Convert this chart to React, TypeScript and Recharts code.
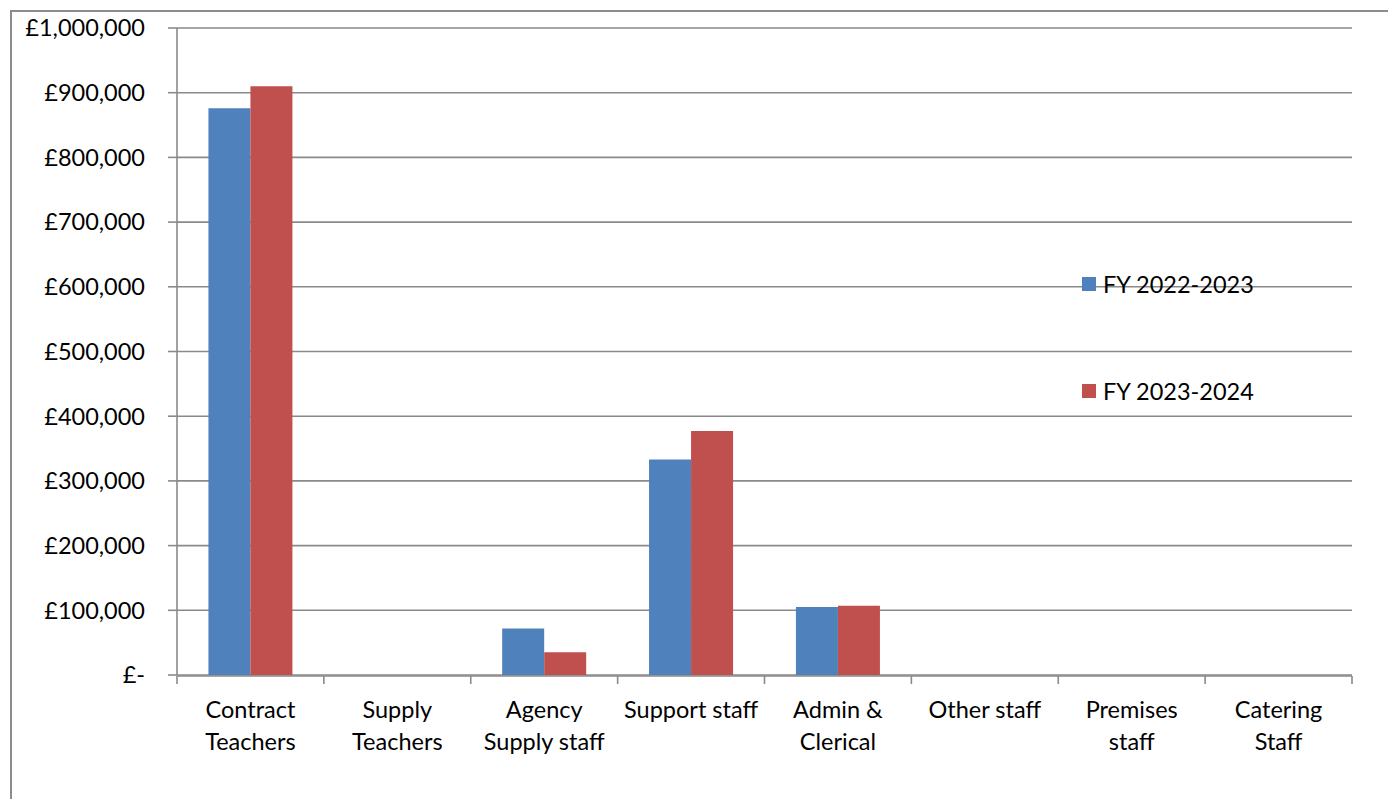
import React from 'react';
import { BarChart, Bar, XAxis, YAxis, CartesianGrid, Legend } from 'recharts';

// Staff cost categories (line breaks mark where labels wrap)
const categories = [
  'Contract\nTeachers',
  'Supply\nTeachers',
  'Agency\nSupply staff',
  'Support staff',
  'Admin &\nClerical',
  'Other staff',
  'Premises\nstaff',
  'Catering\nStaff',
];
const seriesNames = ['FY 2022-2023', 'FY 2023-2024'];
const fy2022_2023 = [876000, 0, 72000, 333000, 105000, 0, 0, 0];
const fy2023_2024 = [910000, 0, 35000, 377000, 107000, 0, 0, 0];
const yTicks = [0, 100000, 200000, 300000, 400000, 500000, 600000, 700000, 800000, 900000, 1000000];
const categoryEdges = [0, 1, 2, 3, 4, 5, 6, 7, 8];

const colors = ['#4F81BD', '#C0504D'];
const gridColor = '#8a8a8a';
const FONT = 'Lato, "Open Sans", sans-serif';
const FONT_SIZE = 23.5;

const data = categories.map((category, i) => ({
  category,
  edge: i,
  a: fy2022_2023[i],
  b: fy2023_2024[i],
}));

const formatPounds = (v: number) => (v === 0 ? '£-' : '£' + v.toLocaleString('en-GB'));

const CategoryTick = (props: any) => {
  const { x, y, payload } = props;
  const lines = String(payload.value).split('\n');
  return (
    <text x={x} y={y} textAnchor="middle" fill="#000" fontFamily={FONT} fontSize={FONT_SIZE}>
      {lines.map((line, i) => (
        <tspan key={i} x={x} y={y + 43 + i * 32}>
          {line}
        </tspan>
      ))}
    </text>
  );
};

// Tick marks only, no labels, between categories
const BlankTick = () => <g />;

const LegendList = (props: any) => {
  const { payload = [] } = props;
  return (
    <div style={{ fontFamily: FONT, fontSize: FONT_SIZE, color: '#000' }}>
      {payload.map((entry: any, i: number) => (
        <div
          key={i}
          style={{ display: 'flex', alignItems: 'center', height: 30, marginBottom: i === 0 ? 77 : 0, whiteSpace: 'nowrap' }}
        >
          <span style={{ display: 'inline-block', width: 14, height: 14, background: entry.color, marginRight: 7 }} />
          <span>{entry.value}</span>
        </div>
      ))}
    </div>
  );
};

export default function App() {
  return (
    <div style={{ position: 'absolute', left: 0, top: 0, width: 1388, height: 799, overflow: 'hidden', background: '#fff' }}>
      <div
        style={{
          position: 'absolute',
          left: 10,
          top: 10,
          width: 1500,
          height: 900,
          borderLeft: '2px solid #8c8c8c',
          borderTop: '2px solid #8c8c8c',
        }}
      />
      <div style={{ position: 'absolute', left: 0, top: 0 }}>
        <BarChart
          width={1388}
          height={799}
          data={data}
          margin={{ top: 28, right: 36, left: 0, bottom: 122 }}
          barCategoryGap="21.4%"
          barGap={0}
        >
          <CartesianGrid vertical={false} stroke={gridColor} strokeWidth={1.6} />
          <XAxis
            xAxisId="edges"
            type="number"
            dataKey="edge"
            domain={[0, 8]}
            ticks={categoryEdges}
            interval={0}
            allowDataOverflow
            height={1}
            axisLine={{ stroke: gridColor, strokeWidth: 1.6 }}
            tick={<BlankTick />}
            tickSize={8}
            tickLine={{ stroke: gridColor, strokeWidth: 1.6 }}
          />
          <XAxis
            xAxisId="cat"
            dataKey="category"
            interval={0}
            height={1}
            axisLine={false}
            tickLine={false}
            tickSize={0}
            tickMargin={0}
            tick={<CategoryTick />}
          />
          <YAxis
            width={177}
            domain={[0, 1000000]}
            ticks={yTicks}
            interval={0}
            tickFormatter={formatPounds}
            axisLine={{ stroke: gridColor, strokeWidth: 1.6 }}
            tickLine={{ stroke: gridColor, strokeWidth: 1.6 }}
            tickSize={9}
            tickMargin={23}
            tick={{ fill: '#000', fontFamily: FONT, fontSize: FONT_SIZE }}
          />
          <Legend
            layout="vertical"
            align="center"
            verticalAlign="middle"
            content={<LegendList />}
            wrapperStyle={{ left: 1082, top: 269, width: 'auto', height: 'auto' }}
          />
          <Bar xAxisId="cat" dataKey="a" name={seriesNames[0]} fill={colors[0]} isAnimationActive={false} />
          <Bar xAxisId="cat" dataKey="b" name={seriesNames[1]} fill={colors[1]} isAnimationActive={false} />
        </BarChart>
      </div>
    </div>
  );
}
